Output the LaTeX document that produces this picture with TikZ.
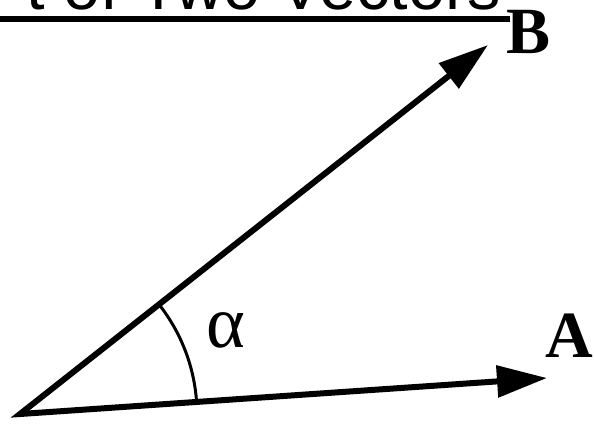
\documentclass[tikz,border=0pt]{standalone}
\usepackage{fontspec}
\setmainfont{Liberation Serif}
\newfontfamily\headfont{Liberation Sans}
\usetikzlibrary{arrows.meta}

\begin{document}
\begin{tikzpicture}[x=1pt, y=-1pt, line join=miter, >={Triangle[length=50pt, width=31pt]},
    vec/.style={line width=6pt},
    lbl/.style={font=\fontsize{66}{66}\selectfont\bfseries, inner sep=0pt, anchor=base},
    head/.style={font=\headfont\fontsize{66.6}{70}\selectfont, inner sep=0pt, anchor=base east}]
    \useasboundingbox (0,0) rectangle (594,424);
    \def \rad{177}
    % --- title
    \node[head] (title) at (501,9.5) {t of Two Vectors};
    \coordinate (ul1) at (0,18.5);
    \coordinate (ul2) at (510,18.5);
    \draw[line width=6pt] (ul1) -- (ul2);
    % --- vectors
    \coordinate (O) at (20,414);
    \coordinate (A) at (547,378);
    \coordinate (B) at (488,45);
    \draw[vec, <->] (B) -- (O) -- (A);
    \node[lbl] (la) at (569.5,357) {A};
    \node[lbl] (lb) at (529,53) {B};
    % --- angle
    \draw[line width=3pt] (O) ++(-3.91:\rad) arc[start angle=-3.91, end angle=-38.25, radius=\rad];
    \node[font=\fontsize{74}{74}\selectfont, inner sep=0pt, anchor=base] (alpha) at (226,347) {α};
\end{tikzpicture}
\end{document}
